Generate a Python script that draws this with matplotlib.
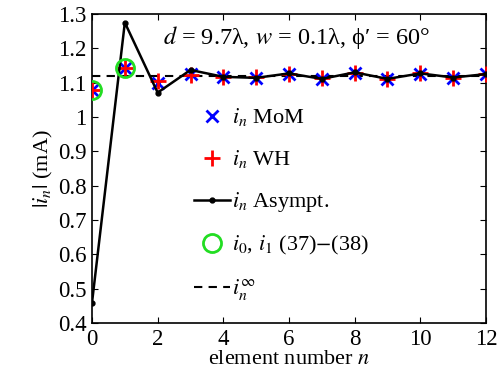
import matplotlib
matplotlib.use("Agg")
import matplotlib.pyplot as plt
import numpy as np

plt.rcParams['font.family'] = ['Liberation Serif', 'DejaVu Serif']
plt.rcParams['mathtext.fontset'] = 'stix'

n = list(range(13))
mom = [1.079, 1.142, 1.098, 1.125, 1.117, 1.115, 1.125, 1.112, 1.128, 1.111, 1.126, 1.114, 1.124]
wh = [1.079, 1.142, 1.105, 1.122, 1.117, 1.116, 1.125, 1.113, 1.129, 1.111, 1.127, 1.115, 1.125]
asym = [0.459, 1.275, 1.071, 1.137, 1.117, 1.114, 1.127, 1.111, 1.130, 1.111, 1.127, 1.115, 1.125]
n01 = [0, 1]
i01 = [1.079, 1.142]
i_inf = 1.12
yticks = [0.4, 0.5, 0.6, 0.7, 0.8, 0.9, 1.0, 1.1, 1.2, 1.3]
ytick_labels = ["0.4", "0.5", "0.6", "0.7", "0.8", "0.9", "1", "1.1", "1.2", "1.3"]
xticks = [0, 2, 4, 6, 8, 10, 12]

fig = plt.figure(figsize=(5.03, 3.79), dpi=100)
ax = fig.add_axes([92/503, 1-323/379, (486-92)/503, (323-42/3)/379])

ax.plot(n, mom, 'x', color='blue', ms=9, mew=2, ls='none', label=r'$i_n$ MoM', zorder=3)
ax.plot(n, wh, '+', color='red', ms=11, mew=2, ls='none', label=r'$i_n$ WH', zorder=3)
ax.plot(n, asym, '-', color='black', lw=1.8, marker='.', ms=7, label=r'$i_n$ Asympt.', zorder=4)
ax.plot(n01, i01, 'o', mfc='none', mec='#22dd22', ms=13, mew=2, ls='none', label=r'$i_0$, $i_1$ (37)$-$(38)', zorder=5)
ax.axhline(i_inf, color='black', ls='--', lw=1.5, dashes=(4, 3), label=r'$i_n^\infty$', zorder=2)

ax.set_xlim(0, 12)
ax.set_ylim(0.4, 1.3)
ax.set_xticks(xticks)
ax.set_yticks(yticks)
ax.set_yticklabels(ytick_labels)
ax.tick_params(direction='in', top=True, right=True, labelsize=16.5, length=4)
ax.tick_params(axis='x', pad=4)
ax.tick_params(axis='y', pad=4)
for s in ax.spines.values():
    s.set_linewidth(1.2)

ax.set_xlabel(r'element number $n$', fontsize=16, labelpad=0)
ax.set_ylabel(r'$|i_n|$ (mA)', fontsize=16, labelpad=2)

ax.text(0.52, 0.925, r"$d$ = 9.7λ, $w$ = 0.1λ, ϕ′ = 60°", transform=ax.transAxes,
        ha='center', va='center', fontsize=17.5)

leg = ax.legend(loc='upper left', bbox_to_anchor=(0.237, 0.73), frameon=False, fontsize=16,
                handlelength=1.6, handletextpad=0.1, labelspacing=0.9, borderaxespad=0)

fig.savefig('out.png', dpi=100)
